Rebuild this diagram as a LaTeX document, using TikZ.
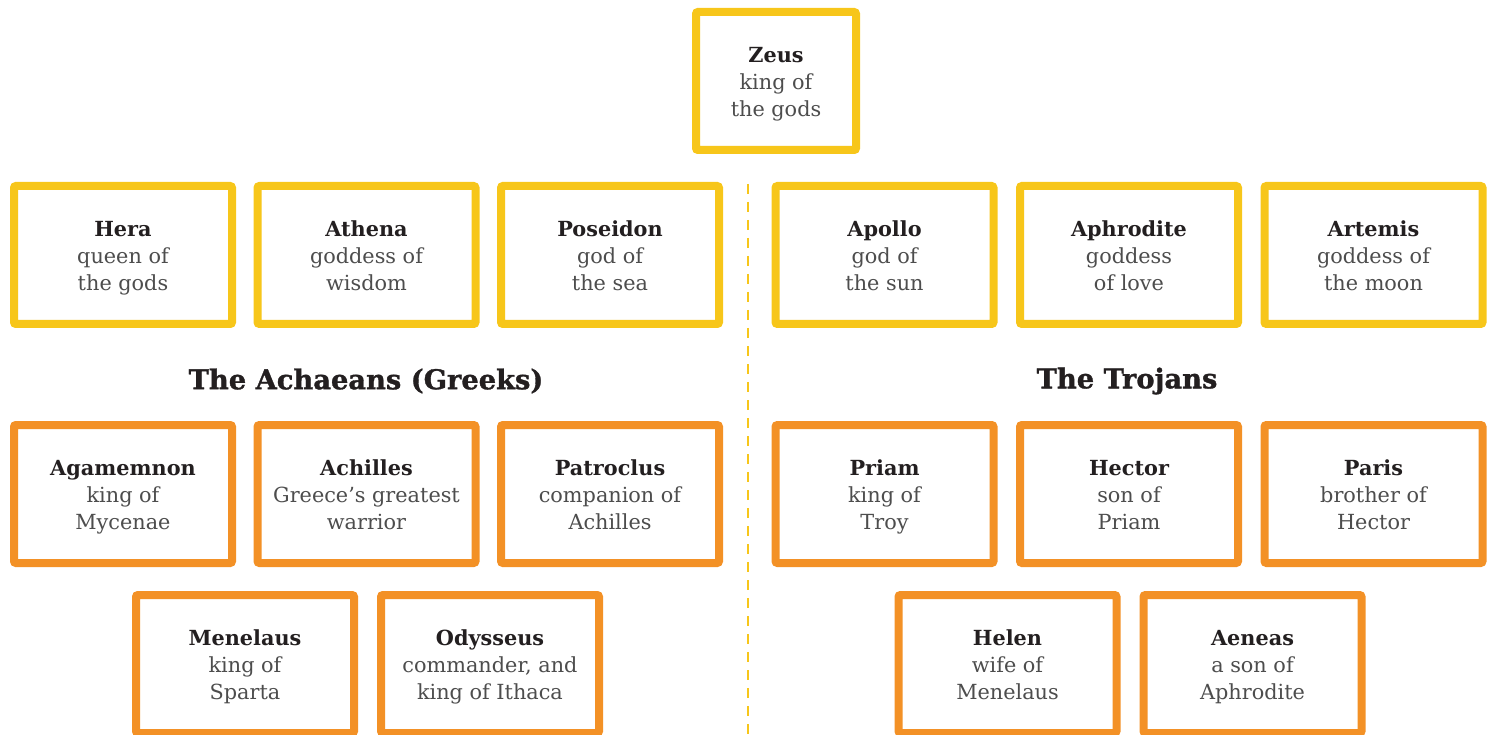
\documentclass[tikz,border=0pt]{standalone}
\usepackage{fontspec}
\setmainfont{DejaVu Serif}
\newfontfamily\headfont{DejaVu Serif}[BoldFeatures={FakeBold=1.2}]
\definecolor{gyellow}{HTML}{F7C61A}
\definecolor{torange}{HTML}{F39126}
\definecolor{namecol}{HTML}{231F20}
\definecolor{desccol}{HTML}{4D4D4D}
\newcommand{\cardtext}[3]{{\bfseries\color{namecol}#1}\rule{0pt}{24.7pt}\\#2\strut\\#3\strut}
\begin{document}
\begin{tikzpicture}[x=1pt,y=-1pt,
  card/.style={draw, line width=8pt, rounded corners=2pt, fill=white,
    minimum width=218pt, minimum height=138pt, align=center, inner sep=0pt,
    text=desccol, font=\fontsize{20.8}{26.7}\selectfont},
  ycard/.style={card, draw=gyellow},
  ocard/.style={card, draw=torange},
  heading/.style={font=\headfont\fontsize{27.3}{32}\selectfont\bfseries, text=namecol},
  divider/.style={draw=gyellow, line width=2.5pt, dash pattern=on 10pt off 8pt}]
\useasboundingbox (0,0) rectangle (1494,735);
\begin{scope}
\clip (0,0) rectangle (1494,735);
% Zeus
\node[ycard, minimum width=160pt] (zeus) at (776,81) {\cardtext{Zeus}{king of}{the gods}};
% gods row
\node[ycard] (hera) at (123,255) {\cardtext{Hera}{queen of}{the gods}};
\node[ycard] (athena) at (366.5,255) {\cardtext{Athena}{goddess of}{wisdom}};
\node[ycard] (poseidon) at (610,255) {\cardtext{Poseidon}{god of}{the sea}};
\node[ycard] (apollo) at (884.5,255) {\cardtext{Apollo}{god of}{the sun}};
\node[ycard] (aphrodite) at (1129,255) {\cardtext{Aphrodite}{goddess}{of love}};
\node[ycard] (artemis) at (1373.5,255) {\cardtext{Artemis}{goddess of}{the moon}};
% headings
\node[heading] (greeks) at (366,381) {The Achaeans (Greeks)};
\node[heading] (trojans) at (1127,381) {The Trojans};
% heroes row
\node[ocard] (agamemnon) at (123,494) {\cardtext{Agamemnon}{king of}{Mycenae}};
\node[ocard] (achilles) at (366.5,494) {\cardtext{Achilles}{Greece’s greatest}{warrior}};
\node[ocard] (patroclus) at (610,494) {\cardtext{Patroclus}{companion of}{Achilles}};
\node[ocard] (priam) at (884.5,494) {\cardtext{Priam}{king of}{Troy}};
\node[ocard] (hector) at (1129,494) {\cardtext{Hector}{son of}{Priam}};
\node[ocard] (paris) at (1373.5,494) {\cardtext{Paris}{brother of}{Hector}};
% last row
\node[ocard] (menelaus) at (245,664) {\cardtext{Menelaus}{king of}{Sparta}};
\node[ocard] (odysseus) at (490,664) {\cardtext{Odysseus}{commander, and}{king of Ithaca}};
\node[ocard] (helen) at (1007.5,664) {\cardtext{Helen}{wife of}{Menelaus}};
\node[ocard] (aeneas) at (1252.5,664) {\cardtext{Aeneas}{a son of}{Aphrodite}};
% divider
\coordinate (dtop) at (748,184);
\coordinate (dbot) at (748,740);
\draw[divider] (dtop) -- (dbot);
\end{scope}
\end{tikzpicture}
\end{document}
